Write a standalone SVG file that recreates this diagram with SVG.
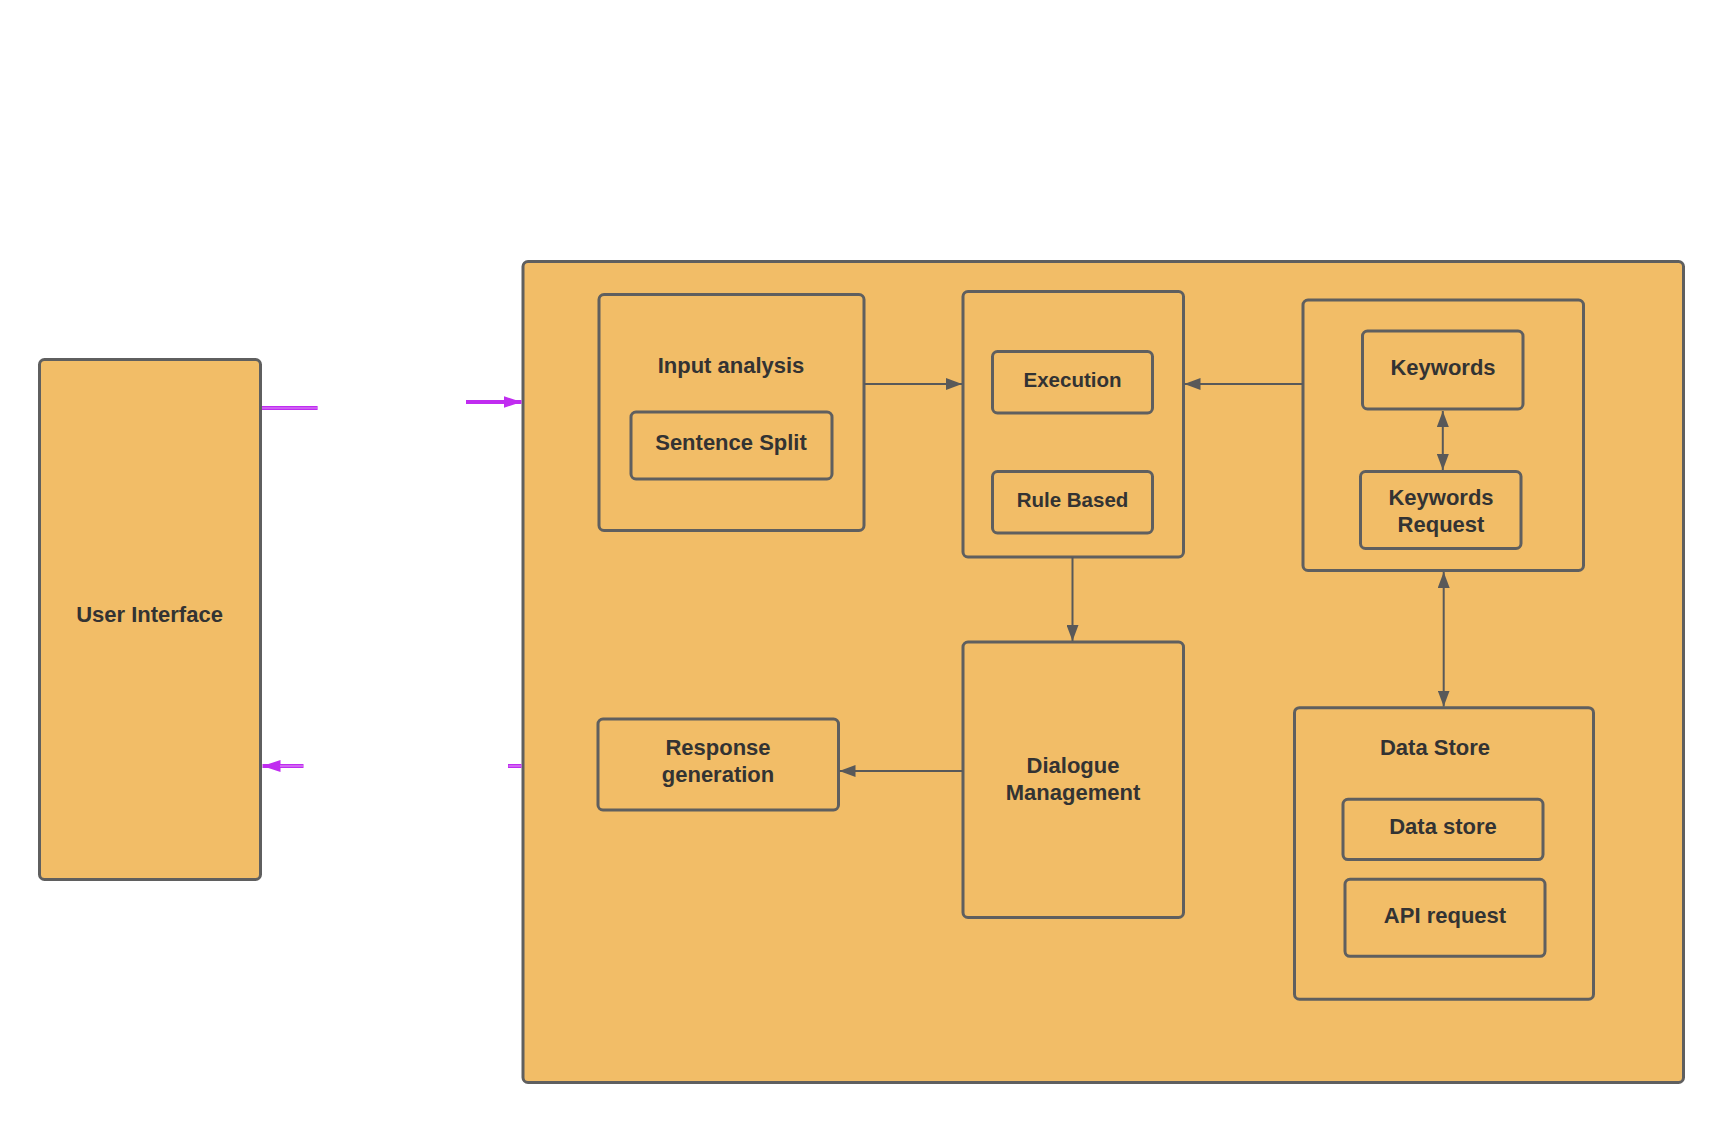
<svg xmlns="http://www.w3.org/2000/svg" width="1723" height="1122" viewBox="0 0 1723 1122">
<style>
.box{fill:#f2bd67;stroke:#5f5f5f;stroke-width:3}
.lbl{font-family:"Liberation Sans",Arial,sans-serif;font-weight:bold;font-size:22px;fill:#333333;text-anchor:middle}
.s20{font-size:20.5px}
.con{fill:none;stroke:#595959;stroke-width:2}
.pur{fill:none;stroke:#c02cf0;stroke-width:4}
.purin{fill:none;stroke:#dc8ff7;stroke-width:1.2}
</style>
<defs>
<marker id="ag" markerUnits="userSpaceOnUse" markerWidth="16" markerHeight="12" refX="16" refY="6" orient="auto-start-reverse"><path d="M0,0 L16,6 L0,12 z" fill="#595959"/></marker>
<marker id="ap" markerUnits="userSpaceOnUse" markerWidth="18" markerHeight="12" refX="18" refY="6" orient="auto"><path d="M0,0 L18,6 L0,12 z" fill="#c02cf0"/></marker>
</defs>
<rect width="1723" height="1122" fill="#ffffff"/>
<g id="user-interface"><rect class="box" x="39.5" y="359.5" width="221" height="520" rx="5"/><text class="lbl" x="149.5" y="622">User Interface</text></g>
<g id="system"><rect class="box" x="523" y="261.5" width="1160.5" height="821" rx="5"/></g>
<g id="input-analysis"><rect class="box" x="599" y="294.5" width="265" height="236" rx="5"/><text class="lbl" x="731" y="373">Input analysis</text></g>
<g id="sentence-split"><rect class="box" x="631" y="412" width="201" height="67" rx="5"/><text class="lbl" x="731" y="450">Sentence Split</text></g>
<g id="exec-container"><rect class="box" x="963" y="291.5" width="220.5" height="265.5" rx="5"/></g>
<g id="execution"><rect class="box" x="992.5" y="351.5" width="160" height="61.5" rx="5"/><text class="lbl s20" x="1072.5" y="386.5">Execution</text></g>
<g id="rule-based"><rect class="box" x="992.5" y="471.5" width="160" height="61.5" rx="5"/><text class="lbl s20" x="1072.5" y="506.5">Rule Based</text></g>
<g id="keywords-container"><rect class="box" x="1303" y="300" width="280.5" height="270.5" rx="5"/></g>
<g id="keywords"><rect class="box" x="1362.5" y="331" width="160.5" height="78" rx="5"/><text class="lbl" x="1443" y="375">Keywords</text></g>
<g id="keywords-request"><rect class="box" x="1360.5" y="471.5" width="160.5" height="77" rx="5"/><text class="lbl" x="1441" y="505">Keywords</text><text class="lbl" x="1441" y="531.5">Request</text></g>
<g id="response-generation"><rect class="box" x="598" y="719" width="240.5" height="91" rx="5"/><text class="lbl" x="718" y="755">Response</text><text class="lbl" x="718" y="781.5">generation</text></g>
<g id="dialogue-management"><rect class="box" x="963" y="642" width="220.5" height="275.5" rx="5"/><text class="lbl" x="1073" y="773">Dialogue</text><text class="lbl" x="1073" y="800">Management</text></g>
<g id="data-store-container"><rect class="box" x="1294.5" y="707.7" width="299" height="291.5" rx="5"/><text class="lbl" x="1435" y="755">Data Store</text></g>
<g id="data-store"><rect class="box" x="1343" y="799.3" width="200" height="60.3" rx="5"/><text class="lbl" x="1443" y="834">Data store</text></g>
<g id="api-request"><rect class="box" x="1345" y="879.3" width="200" height="77" rx="5"/><text class="lbl" x="1445" y="922.5">API request</text></g>
<g id="connectors">
<path class="con" d="M864,384 H962" marker-end="url(#ag)"/>
<path class="con" d="M1303,384 H1184.5" marker-end="url(#ag)"/>
<path class="con" d="M1072.5,557 V641" marker-end="url(#ag)"/>
<path class="con" d="M962.5,771 H839.5" marker-end="url(#ag)"/>
<path class="con" d="M1442.8,411 V470" marker-start="url(#ag)" marker-end="url(#ag)"/>
<path class="con" d="M1443.7,572 V706.5" marker-start="url(#ag)" marker-end="url(#ag)"/>
<path class="pur" d="M262,408 H317.6"/><path class="purin" d="M262,408 H317.6"/>
<path class="pur" d="M466,402 H521.5" marker-end="url(#ap)"/>
<path class="pur" d="M303.5,766 H262.5" marker-end="url(#ap)"/><path class="purin" d="M280,766 H303"/>
<path class="pur" d="M508,766 H521.5"/><path class="purin" d="M508.5,766 H521"/>
</g>
</svg>
